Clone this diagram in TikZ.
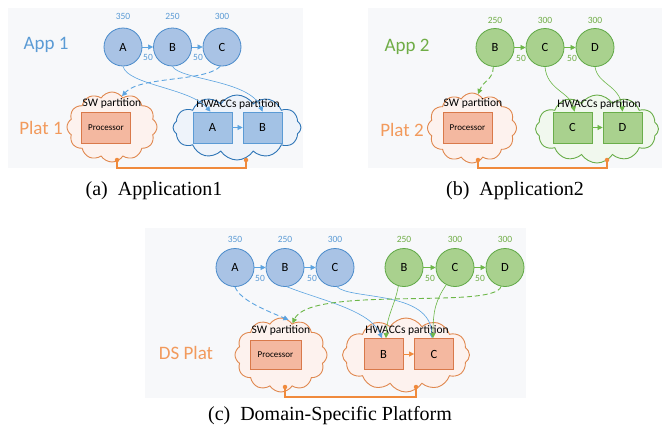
\documentclass[tikz,border=0pt]{standalone}
\usepackage{fontspec}
\setmainfont{Liberation Serif}
\newfontfamily\calib{Carlito}
\usetikzlibrary{shapes.symbols,arrows.meta}
\definecolor{panelbg}{HTML}{F7F8FA}
\definecolor{bcfill}{HTML}{A9C3E5}
\definecolor{bcdraw}{HTML}{4A8BCB}
\definecolor{gcfill}{HTML}{A9D18E}
\definecolor{gcdraw}{HTML}{5FA845}
\definecolor{btext}{HTML}{5B9BD5}
\definecolor{gtext}{HTML}{70AD47}
\definecolor{otext}{HTML}{F29A5C}
\definecolor{procfill}{HTML}{F4B8A0}
\definecolor{procdraw}{HTML}{D9794A}
\definecolor{swfill}{HTML}{FDF2EE}
\definecolor{swdraw}{HTML}{E0884F}
\definecolor{hbfill}{HTML}{EEF3FA}
\definecolor{hbdraw}{HTML}{2E75B6}
\definecolor{hgfill}{HTML}{F1F8EE}
\definecolor{hgdraw}{HTML}{6AAE4A}
\definecolor{rbfill}{HTML}{A3C2E5}
\definecolor{rbdraw}{HTML}{5B9BD5}
\definecolor{busc}{HTML}{F08A3C}
\definecolor{barrow}{HTML}{5BA3E0}
\definecolor{garrow}{HTML}{6DB748}
\definecolor{oarrow}{HTML}{F08A3C}
\begin{document}
\begin{tikzpicture}[x=1pt,y=-1pt,
  circ/.style={circle,minimum size=38pt,inner sep=0pt,line width=0.8pt,text=black,font=\calib\fontsize{12.5}{14}\selectfont},
  bcirc/.style={circ,draw=bcdraw,fill=bcfill},
  gcirc/.style={circ,draw=gcdraw,fill=gcfill},
  bnum/.style={text=btext,font=\calib\fontsize{9.5}{10}\selectfont},
  gnum/.style={text=gtext,font=\calib\fontsize{9.5}{10}\selectfont},
  big/.style={font=\calib\fontsize{19}{22}\selectfont},
  cld/.style={cloud,cloud puffs=12,cloud puff arc=115,cloud ignores aspect,inner sep=0pt,line width=0.9pt},
  swc/.style={cld,draw=swdraw,fill=swfill},
  hbc/.style={cld,draw=hbdraw,fill=hbfill},
  hgc/.style={cld,draw=hgdraw,fill=hgfill},
  hoc/.style={cld,draw=swdraw,fill=swfill},
  box/.style={rectangle,minimum width=39pt,minimum height=31pt,inner sep=0pt,line width=0.8pt,text=black,font=\calib\fontsize{12.5}{14}\selectfont},
  proc/.style={box,draw=procdraw,fill=procfill,minimum width=49pt,font=\calib\fontsize{9}{10}\selectfont},
  bbox/.style={box,draw=rbdraw,fill=rbfill},
  gbox/.style={box,draw=hgdraw,fill=gcfill},
  obox/.style={box,draw=procdraw,fill=procfill},
  part/.style={text=black,font=\calib\fontsize{11.5}{13}\selectfont,inner sep=0pt},
  tip/.style={-{Triangle[length=5pt,width=5pt]}},
  ba/.style={tip,draw=barrow,line width=0.6pt},
  ga/.style={tip,draw=garrow,line width=0.6pt},
  oa/.style={tip,draw=oarrow,line width=0.6pt},
  dsh/.style={dash pattern=on 5pt off 3pt,line width=0.9pt},
  dot/.style={circle,fill=busc,inner sep=0pt,minimum size=4.5pt},
  bus/.style={draw=busc,line width=1.2pt},
  captxt/.style={anchor=base,font=\fontsize{20}{24}\selectfont,inner sep=0pt}
]
\useasboundingbox (0,0) rectangle (662,429);
\fill[panelbg] (8,8) rectangle (303,168);
\fill[panelbg] (368,8) rectangle (662,168);
\fill[panelbg] (145,228) rectangle (526,398);

% ---------------- panel (a)
\node[big,text=btext] (aApp) at (46,45) {App 1};
\node[big,text=otext] (aPlat) at (41,128) {Plat 1};
\node[bcirc] (aA) at (123,47) {A};
\node[bcirc] (aB) at (172.5,47) {B};
\node[bcirc] (aC) at (222,47) {C};
\node[bnum] (an1) at (123,16) {350};
\node[bnum] (an2) at (172.5,16) {250};
\node[bnum] (an3) at (222,16) {300};
\node[bnum] (an4) at (148,57) {50};
\node[bnum] (an5) at (198,57) {50};
\draw[ba] (aA) -- (aB);
\draw[ba] (aB) -- (aC);
\node[swc,minimum width=90pt,minimum height=70pt] (aSW) at (112,127) {};
\node[hbc,minimum width=128pt,minimum height=65pt] (aHW) at (237,127.5) {};
\node[proc] (aP) at (106,127.5) {Processor};
\node[bbox] (ahA) at (212.5,127.5) {A};
\node[bbox] (ahB) at (262.5,127.5) {B};
\node[part] (aSWt) at (112,103) {SW partition};
\node[part] (aHWt) at (238,104) {HWACCs partition};
\draw[ba] (ahA) -- (ahB);
\draw[ba] (aA.-90) .. controls (128,85) and (190,88) .. ([xshift=-2pt]ahA.north);
\draw[ba] (aB.-90) .. controls (180,80) and (250,80) .. (ahB.north);
\draw[ba,dsh] (aC.-95) .. controls (205,82) and (140,76) .. (aSW.72);
\node[dot] (ad1) at (117,160) {};
\node[dot] (ad2) at (246,160) {};
\coordinate (ab1) at (117,168);
\coordinate (ab2) at (246,168);
\draw[bus] (ad1) -- (ab1) -- (ab2) -- (ad2);
\node[captxt] (acap) at (154,195) {(a)\ \ Application1};

% ---------------- panel (b)
\node[big,text=gtext] (bApp) at (407,47) {App 2};
\node[big,text=otext] (bPlat) at (402,130) {Plat 2};
\node[gcirc] (bB) at (495,47.5) {B};
\node[gcirc] (bC) at (545,47.5) {C};
\node[gcirc] (bD) at (595,47.5) {D};
\node[gnum] (bn1) at (495,20) {250};
\node[gnum] (bn2) at (545,20) {300};
\node[gnum] (bn3) at (595,20) {300};
\node[gnum] (bn4) at (521,58) {50};
\node[gnum] (bn5) at (572,58) {50};
\draw[ga] (bB) -- (bC);
\draw[ga] (bC) -- (bD);
\node[swc,minimum width=89pt,minimum height=70pt] (bSW) at (472,128) {};
\node[hgc,minimum width=123pt,minimum height=68pt] (bHW) at (597,129) {};
\node[proc] (bP) at (467.5,127.5) {Processor};
\node[gbox] (bhC) at (572.5,127.5) {C};
\node[gbox] (bhD) at (622.5,127.5) {D};
\node[part] (bSWt) at (473,103) {SW partition};
\node[part] (bHWt) at (599,104) {HWACCs partition};
\draw[ga] (bhC) -- (bhD);
\draw[ga,dsh] (bB.-95) .. controls (493,80) and (484,80) .. (bSW.80);
\draw[ga] (bC.-90) .. controls (547,90) and (570,92) .. ([xshift=2pt]bhC.north);
\draw[ga] (bD.-90) .. controls (598,85) and (620,85) .. (bhD.north);
\node[dot] (bd1) at (478,160) {};
\node[dot] (bd2) at (607,160) {};
\coordinate (bb1) at (478,168);
\coordinate (bb2) at (607,168);
\draw[bus] (bd1) -- (bb1) -- (bb2) -- (bd2);
\node[captxt] (bcap) at (515,195) {(b)\ \ Application2};

% ---------------- panel (c)
\node[big,text=otext] (cPlat) at (186,353) {DS Plat};
\node[bcirc] (cA) at (235,267.5) {A};
\node[bcirc] (cB) at (285,267.5) {B};
\node[bcirc] (cC) at (335,267.5) {C};
\node[gcirc] (cgB) at (404,267.5) {B};
\node[gcirc] (cgC) at (455,267.5) {C};
\node[gcirc] (cgD) at (505,267.5) {D};
\node[bnum] (cn1) at (235,239) {350};
\node[bnum] (cn2) at (285,239) {250};
\node[bnum] (cn3) at (335,239) {300};
\node[gnum] (cn4) at (404,239) {250};
\node[gnum] (cn5) at (455,239) {300};
\node[gnum] (cn6) at (505,239) {300};
\node[bnum] (cn7) at (260,278) {50};
\node[bnum] (cn8) at (312,278) {50};
\node[gnum] (cn9) at (430,278) {50};
\node[gnum] (cn10) at (480,278) {50};
\draw[ba] (cA) -- (cB);
\draw[ba] (cB) -- (cC);
\draw[ga] (cgB) -- (cgC);
\draw[ga] (cgC) -- (cgD);
\node[swc,minimum width=92pt,minimum height=74pt] (cSW) at (281,355) {};
\node[hoc,minimum width=127pt,minimum height=74pt] (cHW) at (406,355) {};
\node[proc,minimum width=51pt,minimum height=29pt] (cP) at (275.5,354.5) {Processor};
\node[obox] (chB) at (383.5,354) {B};
\node[obox] (chC) at (434,354) {C};
\node[part] (cSWt) at (281,330) {SW partition};
\node[part] (cHWt) at (407,330) {HWACCs partition};
\draw[oa] (chB) -- (chC);
\draw[ba,dsh] (cA.-90) .. controls (240,300) and (265,310) .. (cSW.78);
\draw[ba] (cB.-84) .. controls (320,300) and (370,310) .. ([xshift=-1.5pt]chB.north);
\draw[ba] (cC.-84) .. controls (350,300) and (430,290) .. ([xshift=-2pt]chC.north);
\draw[ga] (cgB.-107) .. controls (395,305) and (387,315) .. ([xshift=2.5pt]chB.north);
\draw[ga] (cgC.-117) .. controls (436,300) and (433,310) .. ([xshift=-1pt]chC.north);
\draw[ga,dsh] (cgD.-102) .. controls (495,310) and (310,285) .. (cSW.70);
\node[dot] (cd1) at (285,387) {};
\node[dot] (cd2) at (416,387) {};
\coordinate (cb1) at (285,397);
\coordinate (cb2) at (416,397);
\draw[bus] (cd1) -- (cb1) -- (cb2) -- (cd2);
\node[captxt] (ccap) at (330,420) {(c)\ \ Domain-Specific Platform};
\end{tikzpicture}
\end{document}
